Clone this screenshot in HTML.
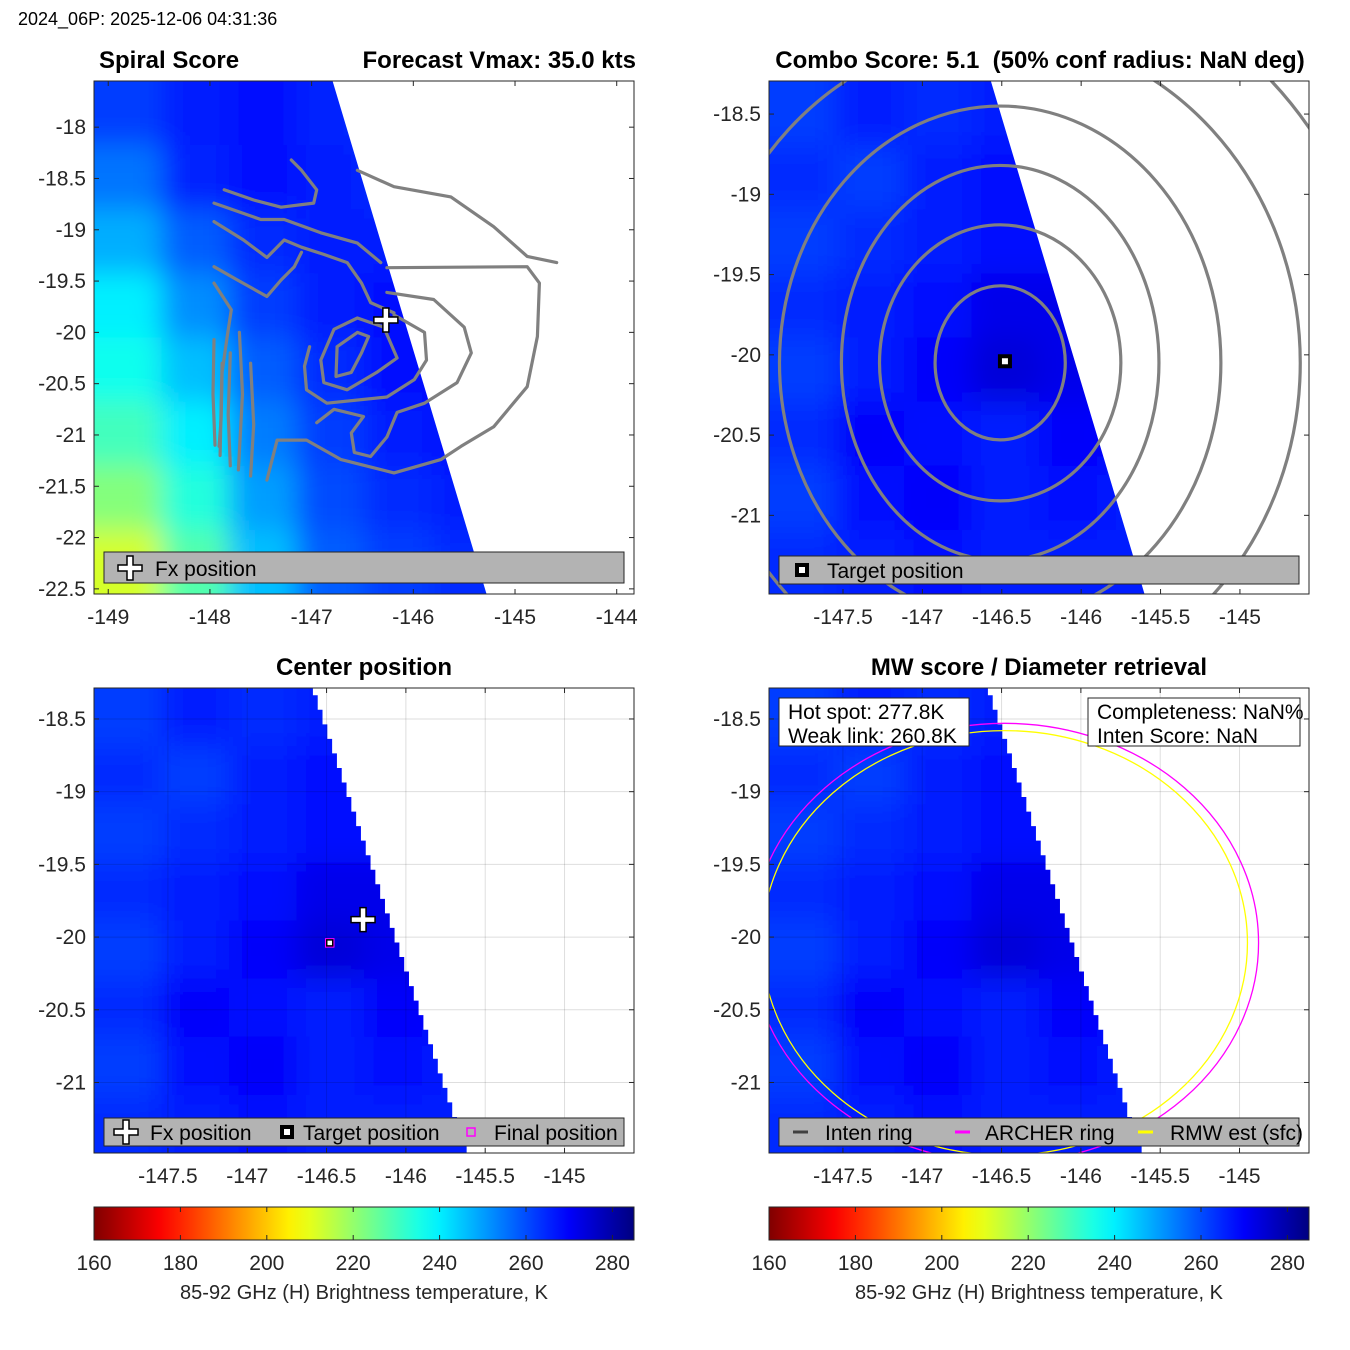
<!DOCTYPE html>
<html><head><meta charset="utf-8">
<style>
html,body{margin:0;padding:0;background:#fff;}
svg{display:block;font-family:"Liberation Sans","DejaVu Sans",sans-serif;}
</style></head>
<body>
<svg id="fig" width="1350" height="1350" viewBox="0 0 1350 1350" xmlns="http://www.w3.org/2000/svg">
<defs>
<filter id="blur" x="-10%" y="-10%" width="120%" height="120%"><feGaussianBlur stdDeviation="14"/></filter>
<linearGradient id="cbgrad" x1="0" y1="0" x2="1" y2="0"></linearGradient>
</defs>
<text x="18" y="25" font-size="18">2024_06P: 2025-12-06 04:31:36</text>
</svg>
<script>
// ---------- data ----------
const heatP1 = [
 [262,266,268,265,262,262,262,262],
 [255,265,268,266,264,263,263,263],
 [248,258,264,266,266,264,264,264],
 [240,252,262,266,268,266,266,266],
 [236,246,258,264,268,268,268,268],
 [230,240,254,262,266,268,268,268],
 [222,234,250,260,264,266,266,266],
 [212,228,246,258,262,264,264,264]];
const heatP2 = [
 [262,266,264,266,266,266,266,266],
 [264,262,266,268,266,266,266,266],
 [262,264,266,268,268,266,266,266],
 [264,266,268,272,272,268,266,266],
 [262,266,270,274,272,268,266,266],
 [264,270,268,266,270,268,266,266],
 [262,268,270,266,268,266,266,266],
 [264,266,268,266,266,266,266,266]];
const swathEdgeLat = [-18.29,-22.55];
const swathEdgeLon = [-146.57,-145.28];
const fxPos = [-146.27,-19.88];
const targetPos = [-146.48,-20.04];
const finalPos = [-146.48,-20.04];
const comboCenter = [-146.51,-20.05];
const comboRadLon = [0.41,0.76,1.0,1.39,1.89,2.4];
const comboRadLat = [0.48,0.86,1.23,1.6,2.05,2.5];
const archerRing = [1.6,1.51];
const rmwRing = [1.53,1.46];
const cbTicks = [160,180,200,220,240,260,280];
const contoursP1 = [
 [-146.75,-20.14,-146.55,-20.00,-146.44,-20.04,-146.51,-20.20,-146.61,-20.39,-146.76,-20.43,-146.75,-20.14],
 [-146.91,-20.27,-146.78,-19.97,-146.55,-19.86,-146.29,-19.95,-146.16,-20.25,-146.36,-20.39,-146.65,-20.56,-146.88,-20.49,-146.91,-20.27],
 [-146.19,-19.83,-145.89,-20.00,-145.87,-20.27,-145.99,-20.46,-146.26,-20.63,-146.85,-20.69,-147.05,-20.56,-147.07,-20.33,-147.02,-20.14],
 [-146.26,-19.61,-145.80,-19.68,-145.50,-19.95,-145.43,-20.20,-145.57,-20.49,-145.89,-20.69,-146.16,-20.78,-146.26,-21.02,-146.42,-21.21,-146.58,-21.17,-146.61,-20.98,-146.49,-20.82,-146.78,-20.75,-146.95,-20.88],
 [-146.26,-19.37,-144.88,-19.36,-144.76,-19.52,-144.78,-20.04,-144.88,-20.53,-145.21,-20.92,-145.53,-21.11,-145.73,-21.24,-146.19,-21.37,-146.71,-21.24,-147.05,-21.05,-147.34,-21.05,-147.44,-21.44],
 [-146.55,-18.42,-146.19,-18.58,-145.63,-18.68,-145.21,-18.97,-144.88,-19.26,-144.59,-19.32],
 [-147.96,-18.74,-147.50,-18.90,-147.27,-18.90,-146.91,-19.03,-146.55,-19.13,-146.32,-19.32],
 [-147.96,-18.92,-147.67,-19.10,-147.44,-19.27,-147.27,-19.10,-147.10,-19.17,-146.88,-19.24,-146.65,-19.32,-146.51,-19.52,-146.42,-19.71,-146.19,-19.81],
 [-147.96,-19.36,-147.73,-19.49,-147.44,-19.65,-147.30,-19.49,-147.17,-19.36,-147.10,-19.22],
 [-147.86,-18.61,-147.57,-18.71,-147.30,-18.78,-146.98,-18.74,-146.95,-18.61,-147.10,-18.42,-147.20,-18.32],
 [-147.96,-19.52,-147.79,-19.78,-147.83,-20.04,-147.88,-20.39,-147.89,-20.85,-147.91,-21.11],
 [-147.96,-20.07,-147.97,-20.6,-147.95,-21.1],
 [-147.88,-20.3,-147.90,-21.2],
 [-147.80,-20.2,-147.82,-20.8,-147.80,-21.3],
 [-147.71,-20.0,-147.68,-20.6,-147.72,-21.34],
 [-147.60,-20.3,-147.57,-20.9,-147.60,-21.4]];

// ---------- setup ----------
const NS="http://www.w3.org/2000/svg";
const svg=document.getElementById('fig');
function el(tag,attrs,parent){const e=document.createElementNS(NS,tag);for(const k in attrs)e.setAttribute(k,attrs[k]);(parent||svg).appendChild(e);return e;}
function jet(v){const t=1-(v-160)/125;const c=x=>Math.round(255*Math.max(0,Math.min(1,x)));
 return `rgb(${c(1.5-Math.abs(4*t-3))},${c(1.5-Math.abs(4*t-2))},${c(1.5-Math.abs(4*t-1))})`;}

const panels=[
 {x0:94,x1:634,y0:81,y1:594,lon0:-149.14,lon1:-143.83,lat0:-17.55,lat1:-22.55,xt:[-149,-148,-147,-146,-145,-144],yt:[-18,-18.5,-19,-19.5,-20,-20.5,-21,-21.5,-22,-22.5],heat:heatP1,grid:false,stair:false},
 {x0:769,x1:1309,y0:81,y1:594,lon0:-147.966,lon1:-144.565,lat0:-18.294,lat1:-21.49,xt:[-147.5,-147,-146.5,-146,-145.5,-145],yt:[-18.5,-19,-19.5,-20,-20.5,-21],heat:heatP2,grid:false,stair:false},
 {x0:94,x1:634,y0:688,y1:1153,lon0:-147.966,lon1:-144.562,lat0:-18.287,lat1:-21.485,xt:[-147.5,-147,-146.5,-146,-145.5,-145],yt:[-18.5,-19,-19.5,-20,-20.5,-21],heat:heatP2,grid:true,stair:true},
 {x0:769,x1:1309,y0:688,y1:1153,lon0:-147.966,lon1:-144.562,lat0:-18.287,lat1:-21.485,xt:[-147.5,-147,-146.5,-146,-145.5,-145],yt:[-18.5,-19,-19.5,-20,-20.5,-21],heat:heatP2,grid:true,stair:true}];
panels.forEach(p=>{p.X=lon=>p.x0+(lon-p.lon0)/(p.lon1-p.lon0)*(p.x1-p.x0);p.Y=lat=>p.y0+(lat-p.lat0)/(p.lat1-p.lat0)*(p.y1-p.y0);});
function edgeLon(lat){return swathEdgeLon[0]+(lat-swathEdgeLat[0])*(swathEdgeLon[1]-swathEdgeLon[0])/(swathEdgeLat[1]-swathEdgeLat[0]);}

panels.forEach((p,i)=>{
 const g=el('g',{});
 
 
 const cp=el('clipPath',{id:'clip'+i},g);
 el('rect',{x:p.x0,y:p.y0,width:p.x1-p.x0,height:p.y1-p.y0},cp);
 const plot=el('g',{'clip-path':`url(#clip${i})`},g);
 const hm=el('g',{filter:'url(#blur)'},plot);
 
 
 const rows=p.heat.length, cols=p.heat[0].length;
 const cw=(p.x1-p.x0)/cols, ch=(p.y1-p.y0)/rows;
 p.heat.forEach((row,r)=>row.forEach((v,c)=>{
  let x=p.x0+c*cw, y=p.y0+r*ch, w=cw+1, h=ch+1;
  if(c===0){x-=40;w+=40;} if(c===cols-1){w+=40;}
  if(r===0){y-=40;h+=40;} if(r===rows-1){h+=40;}
  const rc=el('rect',{x:x,y:y,width:w,height:h,fill:jet(v)},hm);
  
  
 }));
 let pts=[];
 if(!p.stair){
  pts=[[p.X(edgeLon(p.lat0+0.3)),p.Y(p.lat0+0.3)],[p.X(edgeLon(p.lat1-0.3)),p.Y(p.lat1-0.3)],[p.x1+5,p.Y(p.lat1-0.3)],[p.x1+5,p.Y(p.lat0+0.3)]];
 } else {
  pts.push([p.x1+5,p.y0-5]);
  for(let lat=p.lat0+0.05;lat>p.lat1-0.15;lat-=0.1){
   const lx=p.X(edgeLon(lat));
   pts.push([lx,p.Y(lat)]);pts.push([lx,p.Y(lat-0.1)]);
  }
  pts.push([p.x1+5,p.y1+10]);
 }
 const sw=el('polygon',{points:pts.map(q=>q.join(',')).join(' '),fill:'#fff'},plot);
 
 
 if(p.grid){
  p.xt.forEach(t=>el('line',{x1:p.X(t),x2:p.X(t),y1:p.y0,y2:p.y1,stroke:'#000','stroke-opacity':0.13,'stroke-width':1},plot));
  p.yt.forEach(t=>el('line',{y1:p.Y(t),y2:p.Y(t),x1:p.x0,x2:p.x1,stroke:'#000','stroke-opacity':0.13,'stroke-width':1},plot));
 }
 p.plot=plot;p.g=g;
});

const p1=panels[0];
contoursP1.forEach(c=>{
 let d='';for(let k=0;k<c.length;k+=2)d+=(k?'L':'M')+p1.X(c[k]).toFixed(1)+','+p1.Y(c[k+1]).toFixed(1);
 const e=el('path',{d:d,fill:'none',stroke:'#808080','stroke-width':3.2,'stroke-linejoin':'round','stroke-linecap':'round'},p1.plot);
 
 
});
const p2=panels[1];
comboRadLon.forEach((rl,k)=>{
 const cx=p2.X(comboCenter[0]),cy=p2.Y(comboCenter[1]);
 const rx=Math.abs(p2.X(comboCenter[0]+rl)-cx), ry=Math.abs(p2.Y(comboCenter[1]-comboRadLat[k])-cy);
 const e=el('ellipse',{cx:cx,cy:cy,rx:rx,ry:ry,fill:'none',stroke:'#808080','stroke-width':3.2},p2.plot);
 
 
});
const p4=panels[3];
[[archerRing,'#ff00ff','archer-ring'],[rmwRing,'#ffff00','rmw-ring']].forEach(([r,col,nm])=>{
 const cx=p4.X(targetPos[0]),cy=p4.Y(targetPos[1]);
 const e=el('ellipse',{cx:cx,cy:cy,rx:p4.X(targetPos[0]+r[0])-cx,ry:p4.Y(targetPos[1]-r[1])-cy,fill:'none',stroke:col,'stroke-width':1.3},p4.plot);
 
 
});

function cross(parent,x,y,s){
 const g=el('g',{},parent);
 const d=`M${x-3},${y-s}h6v${s-3}h${s-3}v6h-${s-3}v${s-3}h-6v-${s-3}h-${s-3}v-6h${s-3}z`;
 el('path',{d:d,fill:'#fff',stroke:'#000','stroke-width':1.5},g);
 return g;
}
function sq(parent,x,y,col,outer){
 const g=el('g',{},parent);
 if(outer) el('rect',{x:x-7,y:y-7,width:14,height:14,fill:'#000'},g);
 el('rect',{x:x-4,y:y-4,width:8,height:8,fill:outer?'#fff':'none',stroke:col,'stroke-width':outer?2:1.5},g);
 return g;
}
let m=cross(p1.plot,p1.X(fxPos[0]),p1.Y(fxPos[1]),12);


m=sq(p2.plot,p2.X(targetPos[0]),p2.Y(targetPos[1]),'#000',true);


const p3=panels[2];
m=sq(p3.plot,p3.X(finalPos[0]),p3.Y(finalPos[1]),'#ff00ff',false);
el('rect',{x:p3.X(targetPos[0])-3,y:p3.Y(targetPos[1])-3,width:6,height:6,fill:'#fff',stroke:'#000','stroke-width':1.5},m);


m=cross(p3.plot,p3.X(fxPos[0]),p3.Y(fxPos[1]),12);



panels.forEach((p,i)=>{
 const ax=el('g',{},p.g);
 
 
 el('rect',{x:p.x0,y:p.y0,width:p.x1-p.x0,height:p.y1-p.y0,fill:'none',stroke:'#262626','stroke-width':1},ax);
 p.xt.forEach(t=>{
  const x=p.X(t);
  el('line',{x1:x,x2:x,y1:p.y1,y2:p.y1-5,stroke:'#262626'},ax);
  el('line',{x1:x,x2:x,y1:p.y0,y2:p.y0+5,stroke:'#262626'},ax);
  const tx=el('text',{x:x,y:p.y1+30,'font-size':21,'text-anchor':'middle',fill:'#262626'},ax);
  tx.textContent=String(t);
  
  
 });
 p.yt.forEach(t=>{
  const y=p.Y(t);
  el('line',{y1:y,y2:y,x1:p.x0,x2:p.x0+5,stroke:'#262626'},ax);
  el('line',{y1:y,y2:y,x1:p.x1,x2:p.x1-5,stroke:'#262626'},ax);
  const tx=el('text',{x:p.x0-8,y:y+7,'font-size':21,'text-anchor':'end',fill:'#262626'},ax);
  tx.textContent=String(t);
  
  
 });
});

[[99,68,'start','Spiral Score','title-spiral-score'],[636,68,'end','Forecast Vmax: 35.0 kts','title-forecast-vmax'],
 [1040,68,'middle','Combo Score: 5.1  (50% conf radius: NaN deg)','title-combo-score'],
 [364,675,'middle','Center position','title-center-position'],[1039,675,'middle','MW score / Diameter retrieval','title-mw-score']].forEach(a=>{
 const t=el('text',{x:a[0],y:a[1],'text-anchor':a[2],'font-size':24,'font-weight':'bold',fill:'#000'});
 t.style.whiteSpace='pre';
 t.textContent=a[3];
 
 
});

function legendBox(x,y,w,h,name){const g=el('g',{});
 el('rect',{x:x,y:y,width:w,height:h,fill:'#b3b3b3',stroke:'#262626','stroke-width':1},g);return g;}
function ltext(g,x,y,s){const t=el('text',{x:x,y:y,'font-size':21,fill:'#000'},g);t.textContent=s;return t;}
let lg=legendBox(104,552,520,31,'legend-panel-1');
cross(lg,130,568,12);ltext(lg,155,576,'Fx position');
lg=legendBox(779,556,520,28,'legend-panel-2');
sq(lg,802,570,'#000',true);ltext(lg,827,578,'Target position');
lg=legendBox(104,1118,520,28,'legend-panel-3');
cross(lg,126,1132,12);ltext(lg,150,1140,'Fx position');
sq(lg,287,1132,'#000',true);ltext(lg,303,1140,'Target position');
sq(lg,471,1132,'#ff00ff',false);ltext(lg,494,1140,'Final position');
lg=legendBox(779,1118,520,28,'legend-panel-4');
el('line',{x1:793,x2:808,y1:1132,y2:1132,stroke:'#404040','stroke-width':3},lg);ltext(lg,825,1140,'Inten ring');
el('line',{x1:955,x2:970,y1:1132,y2:1132,stroke:'#ff00ff','stroke-width':3},lg);ltext(lg,985,1140,'ARCHER ring');
el('line',{x1:1138,x2:1153,y1:1132,y2:1132,stroke:'#ffff00','stroke-width':3},lg);ltext(lg,1170,1140,'RMW est (sfc)');

function infoBox(x,y,w,h,lines,name){const g=el('g',{});
 el('rect',{x:x,y:y,width:w,height:h,fill:'#fff',stroke:'#262626'},g);
 lines.forEach((s,k)=>{const t=el('text',{x:x+9,y:y+21+k*24,'font-size':21,fill:'#000'},g);t.textContent=s;});}
infoBox(779,698,190,48,['Hot spot: 277.8K','Weak link: 260.8K'],'hot-spot-box');
infoBox(1088,698,212,48,['Completeness: NaN%','Inten Score: NaN'],'completeness-box');

const grad=document.getElementById('cbgrad');
for(let k=0;k<=25;k++){el('stop',{offset:(k/25),'stop-color':jet(160+125*k/25)},grad);}
[[94,634],[769,1309]].forEach(([x0,x1],i)=>{
 const g=el('g',{});
 el('rect',{x:x0,y:1207,width:x1-x0,height:33,fill:'url(#cbgrad)',stroke:'#262626'},g);
 const CX=v=>x0+(v-160)/125*(x1-x0);
 cbTicks.forEach(v=>{
  el('line',{x1:CX(v),x2:CX(v),y1:1240,y2:1235,stroke:'#262626'},g);
  el('line',{x1:CX(v),x2:CX(v),y1:1207,y2:1212,stroke:'#262626'},g);
  const t=el('text',{x:CX(v),y:1270,'font-size':21,'text-anchor':'middle',fill:'#262626'},g);t.textContent=v;
  
 });
 const t=el('text',{x:(x0+x1)/2,y:1299,'font-size':20,'text-anchor':'middle',fill:'#262626'},g);
 t.textContent='85-92 GHz (H) Brightness temperature, K';
 
});
</script>
</body></html>
